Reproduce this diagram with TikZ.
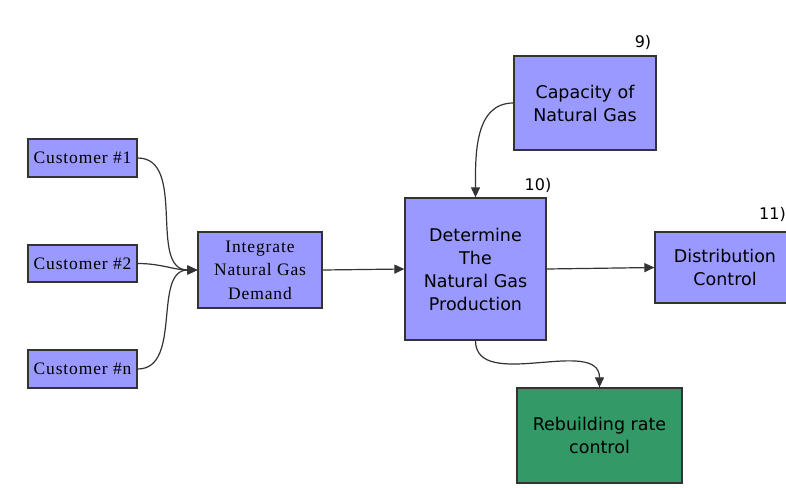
\documentclass[tikz,border=0pt]{standalone}
\usepackage{fontspec}
\usetikzlibrary{arrows.meta}
\newfontfamily\sansf{DejaVu Sans}
\newfontfamily\serf[LetterSpace=5]{Liberation Serif}
\definecolor{boxblue}{HTML}{9999FF}
\definecolor{boxgreen}{HTML}{339966}
\definecolor{edgegray}{HTML}{333333}
\begin{document}
\begin{tikzpicture}[x=1pt,y=-1pt,
  box/.style={draw=edgegray,line width=1.3pt,fill=boxblue,align=center,inner sep=0pt},
  serbox/.style={box,font=\serf\fontsize{17.5}{23.5}\selectfont},
  sansbox/.style={box,font=\sansf\fontsize{17.5}{23}\selectfont},
  conn/.style={draw=edgegray,line width=1.2pt,-{Triangle[length=10pt,width=9pt]}},
  tag/.style={font=\sansf\fontsize{16}{18}\selectfont,inner sep=0pt}]
\useasboundingbox (0,0) rectangle (786,487);
\clip (0,0) rectangle (786,487);
\fill[white] (0,0) rectangle (786,487);
\node[serbox,minimum width=109pt,minimum height=38pt] (c1) at (82.5,158) {Customer \#1};
\node[serbox,minimum width=109pt,minimum height=37pt] (c2) at (82.5,263.5) {Customer \#2};
\node[serbox,minimum width=109pt,minimum height=38pt] (cn) at (82.5,369) {Customer \#n};
\node[serbox,minimum width=124pt,minimum height=76pt] (int) at (260,270) {Integrate\\Natural Gas\\Demand};
\node[sansbox,minimum width=141pt,minimum height=142pt] (det) at (475.5,269) {Determine\\The\\Natural Gas\\Production};
\node[sansbox,minimum width=142pt,minimum height=94pt] (cap) at (585,103) {Capacity of\\Natural Gas};
\node[sansbox,minimum width=140pt,minimum height=71pt] (dist) at (725,267.5) {Distribution\\Control};
\node[sansbox,fill=boxgreen,minimum width=165pt,minimum height=95pt] (reb) at (599.5,435.5) {Rebuilding rate\\control};
\node[tag] (t9) at (643,42) {9)};
\node[tag] (t10) at (538,185) {10)};
\node[tag,anchor=east] (t11) at (786,214) {11)};
\draw[conn] (c1.east) to[out=0,in=180] (int.west);
\draw[conn] (c2.east) to[out=0,in=180] (int.west);
\draw[conn] (cn.east) to[out=0,in=180] (int.west);
\draw[conn] (int.east) -- (det.west);
\draw[conn] (cap.west) to[out=180,in=90] (det.north);
\draw[conn] (det.east) -- (dist.west);
\draw[conn] (det.south) to[out=-90,in=90] (reb.north);
\end{tikzpicture}
\end{document}
